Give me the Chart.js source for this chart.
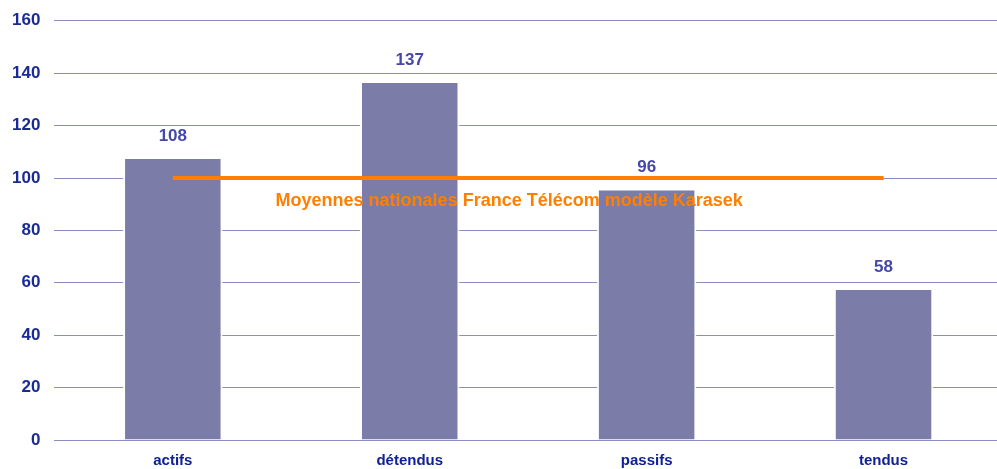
<!DOCTYPE html>
<html>
<head>
<meta charset="utf-8">
<script src="https://cdn.jsdelivr.net/npm/chart.js@4"></script>
<style>
  body { margin: 0; background: #fff; overflow: hidden; }
  #wrap { width: 1003px; height: 469px; position: relative; }
</style>
</head>
<body>
<div id="wrap"><canvas id="chart"></canvas></div>
<script>
// ===== DONNÉES =====
const categories = ['actifs', 'détendus', 'passifs', 'tendus'];
const scores = [108, 137, 96, 58];
const moyenneNationale = [100, 100, 100, 100];
const moyenneLabel = 'Moyennes nationales France Télécom modèle Karasek';
const yTicks = [0, 20, 40, 60, 80, 100, 120, 140, 160];

const FONT = '"Liberation Sans", Arial, sans-serif';

// étiquettes de valeur au-dessus des barres + texte de la moyenne
const labelsPlugin = {
    id: 'labels',
    afterDatasetsDraw(chart) {
        const ctx = chart.ctx;
        const meta = chart.getDatasetMeta(0);
        ctx.save();
        ctx.font = 'bold 17px ' + FONT;
        ctx.fillStyle = '#4548A8';
        ctx.textAlign = 'center';
        ctx.textBaseline = 'middle';
        meta.data.forEach((bar, i) => {
            ctx.fillText(scores[i], bar.x, bar.y - 21);
        });

        const x = chart.scales.x;
        const y = chart.scales.y;
        ctx.font = 'bold 18px ' + FONT;
        ctx.fillStyle = '#FF7F00';
        ctx.fillText(moyenneLabel, x.getPixelForValue(1.5) - 19, y.getPixelForValue(moyenneNationale[0]) + 23);
        ctx.restore();
    }
};

new Chart(document.getElementById('chart'), {
    data: {
        labels: categories,
        datasets: [
            {
                type: 'bar',
                data: scores,
                backgroundColor: '#7B7CA8',
                borderColor: '#FFFFFF',
                borderWidth: 2,
                borderSkipped: 'bottom',
                barPercentage: 0.42,
                categoryPercentage: 1,
                order: 2
            },
            {
                type: 'line',
                data: moyenneNationale,
                borderColor: '#FF7F00',
                borderWidth: 4,
                pointRadius: 0,
                fill: false,
                order: 1
            }
        ]
    },
    options: {
        responsive: true,
        maintainAspectRatio: false,
        animation: false,
        layout: { padding: { left: -2, right: 1, top: 7, bottom: -13 } },
        plugins: {
            legend: { display: false },
            tooltip: { enabled: false }
        },
        scales: {
            y: {
                min: 0,
                max: 160,
                afterBuildTicks(axis) {
                    axis.ticks = yTicks.map(v => ({ value: v }));
                },
                ticks: {
                    padding: 14,
                    color: '#1A2B96',
                    font: { family: FONT, size: 17, weight: 'bold', lineHeight: 0.8 }
                },
                grid: {
                    color: '#8C8DBF',
                    lineWidth: 1,
                    drawTicks: false
                },
                border: { display: false }
            },
            x: {
                ticks: {
                    padding: 12,
                    color: '#0F2196',
                    font: { family: FONT, size: 15, weight: 'bold' }
                },
                grid: { display: false, drawTicks: false },
                border: { display: false }
            }
        }
    },
    plugins: [labelsPlugin]
});
</script>
</body>
</html>
